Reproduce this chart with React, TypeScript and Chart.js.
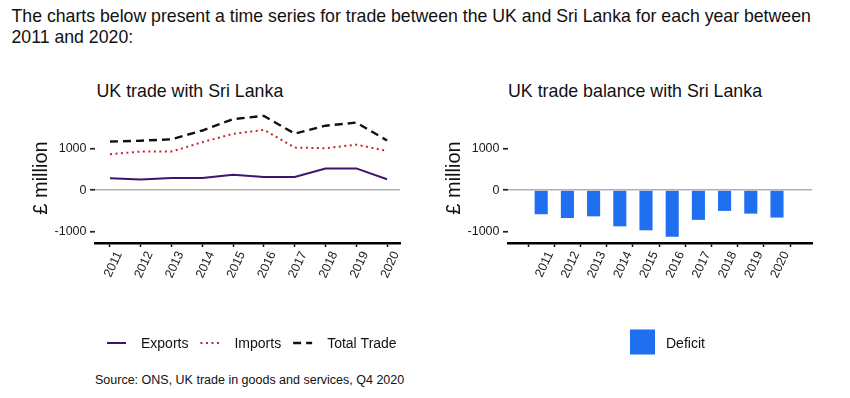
import React, { useEffect, useRef } from 'react';
import { Chart, registerables } from 'chart.js';

Chart.register(...registerables);

const FONT = "'Liberation Sans', Arial, Helvetica, sans-serif";

// ---- data ----
const years = ['2011', '2012', '2013', '2014', '2015', '2016', '2017', '2018', '2019', '2020'];
const exportsValues = [284, 252, 292, 292, 365, 317, 317, 520, 520, 260];
const importsValues = [860, 925, 925, 1150, 1350, 1445, 1020, 1005, 1090, 940];
const totalTradeValues = [1165, 1185, 1220, 1430, 1705, 1780, 1355, 1545, 1620, 1190];
const deficitValues = [-580, -670, -630, -870, -965, -1120, -715, -500, -565, -660];
const yTickValues = [-1000, 0, 1000];
const Y_MIN = -1270;
const Y_MAX = 1850;

const toPoints = (vals: number[]) => vals.map((v, i) => ({ x: i, y: v }));

const rowLegend = {
  id: 'rowLegend',
  afterDraw(chart: any, _args: any, opts: any) {
    const ctx = chart.ctx as CanvasRenderingContext2D;
    ctx.save();
    ctx.font = `${opts.fontSize}px ${FONT}`;
    ctx.textBaseline = 'alphabetic';
    ctx.textAlign = 'left';
    let x = opts.x;
    chart.data.datasets.forEach((ds: any) => {
      if (opts.kind === 'line') {
        ctx.save();
        ctx.strokeStyle = ds.borderColor;
        ctx.lineWidth = ds.borderWidth;
        ctx.setLineDash(ds.borderDash || []);
        ctx.lineCap = 'butt';
        ctx.beginPath();
        ctx.moveTo(x, opts.y);
        ctx.lineTo(x + opts.sample, opts.y);
        ctx.stroke();
        ctx.restore();
      } else {
        ctx.fillStyle = ds.backgroundColor;
        ctx.fillRect(x, opts.y - opts.sample / 2, opts.sample, opts.sample);
      }
      x += opts.sample + opts.gap;
      ctx.fillStyle = opts.color;
      ctx.fillText(ds.label, x, opts.baseline);
      x += ctx.measureText(ds.label).width + opts.itemGap;
    });
    ctx.restore();
  },
};

const xScale = (min: number, max: number) => ({
  type: 'linear',
  min,
  max,
  afterBuildTicks: (s: any) => {
    s.ticks = years.map((_, i) => ({ value: i }));
  },
  afterFit: (s: any) => {
    s.height = 60;
  },
  grid: {
    display: true,
    drawOnChartArea: false,
    drawTicks: true,
    tickLength: 4,
    tickColor: '#111',
    tickWidth: 1.5,
  },
  border: { display: true, color: '#000', width: 2.4 },
  ticks: {
    autoSkip: false,
    minRotation: 65,
    maxRotation: 65,
    padding: 2,
    labelOffset: 9,
    color: '#222',
    font: { family: FONT, size: 12.5 },
    callback: (v: any) => years[v] ?? '',
  },
});

const yScale = (titlePad: number, width: number) => ({
  type: 'linear',
  min: Y_MIN,
  max: Y_MAX,
  afterBuildTicks: (s: any) => {
    s.ticks = yTickValues.map((v) => ({ value: v }));
  },
  afterFit: (s: any) => {
    s.width = width;
  },
  grid: {
    color: (c: any) => (c.tick && c.tick.value === 0 ? '#b0b0b0' : 'rgba(0,0,0,0)'),
    lineWidth: 1.5,
    drawTicks: true,
    tickLength: 5,
    tickColor: '#222',
    tickWidth: 1.7,
  },
  border: { display: false },
  ticks: {
    padding: 3.5,
    color: '#1a1a1a',
    font: { family: FONT, size: 12.5 },
    callback: (v: any) => String(v),
  },
  title: {
    display: true,
    text: '£ million',
    color: '#111',
    font: { family: FONT, size: 20 },
    padding: { top: titlePad, bottom: 0 },
  },
});

function TradeChart() {
  const ref = useRef<HTMLCanvasElement>(null);
  useEffect(() => {
    if (!ref.current) return;
    const chart = new Chart(ref.current, {
      type: 'line',
      data: {
        datasets: [
          {
            label: 'Exports',
            data: toPoints(exportsValues),
            borderColor: '#42126e',
            borderWidth: 2,
            pointRadius: 0,
            tension: 0,
          },
          {
            label: 'Imports',
            data: toPoints(importsValues),
            borderColor: '#c4262e',
            borderWidth: 2,
            borderDash: [2, 3.5],
            pointRadius: 0,
            tension: 0,
          },
          {
            label: 'Total Trade',
            data: toPoints(totalTradeValues),
            borderColor: '#111',
            borderWidth: 2.4,
            borderDash: [8, 5],
            pointRadius: 0,
            tension: 0,
          },
        ],
      } as any,
      options: {
        responsive: false,
        animation: false,
        layout: { padding: { left: 0, right: 25, top: 23, bottom: 67 } },
        plugins: {
          legend: { display: false },
          tooltip: { enabled: false },
          rowLegend: {
            kind: 'line',
            x: 107,
            y: 253,
            baseline: 257.5,
            sample: 19,
            gap: 15,
            itemGap: 12,
            fontSize: 14,
            color: '#111',
          },
        } as any,
        scales: {
          x: xScale(-0.487, 9.42),
          y: yScale(29.5, 95),
        } as any,
      },
      plugins: [rowLegend],
    });
    return () => chart.destroy();
  }, []);
  return (
    <canvas
      ref={ref}
      width={425}
      height={280}
      style={{ position: 'absolute', left: 0, top: 90, width: 425, height: 280, display: 'block' }}
    />
  );
}

function BalanceChart() {
  const ref = useRef<HTMLCanvasElement>(null);
  useEffect(() => {
    if (!ref.current) return;
    const chart = new Chart(ref.current, {
      type: 'bar',
      data: {
        datasets: [
          {
            label: 'Deficit',
            data: toPoints(deficitValues),
            backgroundColor: '#1f6ff0',
            barPercentage: 0.5,
            categoryPercentage: 1,
          },
        ],
      } as any,
      options: {
        responsive: false,
        animation: false,
        layout: { padding: { left: 0, right: 38, top: 23, bottom: 67 } },
        plugins: {
          legend: { display: false },
          tooltip: { enabled: false },
          rowLegend: {
            kind: 'box',
            x: 205,
            y: 252,
            baseline: 258,
            sample: 25,
            gap: 11,
            itemGap: 12,
            fontSize: 14,
            color: '#111',
          },
        } as any,
        scales: {
          x: xScale(-0.687, 9.756),
          y: yScale(17.5, 83),
        } as any,
      },
      plugins: [rowLegend],
    });
    return () => chart.destroy();
  }, []);
  return (
    <canvas
      ref={ref}
      width={425}
      height={280}
      style={{ position: 'absolute', left: 425, top: 90, width: 425, height: 280, display: 'block' }}
    />
  );
}

export default function App() {
  const base: React.CSSProperties = {
    position: 'absolute',
    fontFamily: FONT,
    color: '#111',
    whiteSpace: 'nowrap',
    margin: 0,
  };
  return (
    <div
      style={{
        position: 'absolute',
        left: 0,
        top: 0,
        width: 850,
        height: 398,
        background: '#fff',
        overflow: 'hidden',
      }}
    >
      <div style={{ ...base, left: 11.5, top: 6.3, fontSize: '17.7px', lineHeight: '20.6px' }}>
        The charts below present a time series for trade between the UK and Sri Lanka for each year between
        <br />
        2011 and 2020:
      </div>
      <div style={{ ...base, left: 96.5, top: 80.5, fontSize: '17.8px', lineHeight: '20px' }}>
        UK trade with Sri Lanka
      </div>
      <div style={{ ...base, left: 508, top: 80.5, fontSize: '17.8px', lineHeight: '20px' }}>
        UK trade balance with Sri Lanka
      </div>
      <TradeChart />
      <BalanceChart />
      <div style={{ ...base, left: 95, top: 373.2, fontSize: '12.5px', lineHeight: '15px' }}>
        Source: ONS, UK trade in goods and services, Q4 2020
      </div>
    </div>
  );
}
